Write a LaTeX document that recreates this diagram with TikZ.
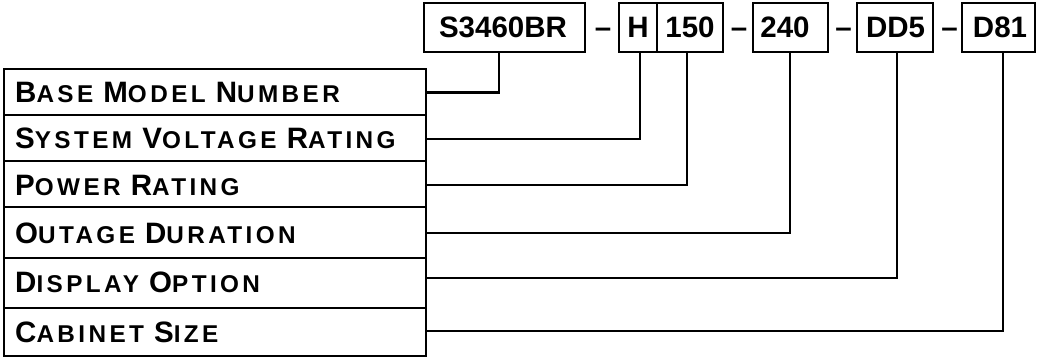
\documentclass[tikz,border=0pt]{standalone}
\usepackage{fontspec}
\setmainfont{Liberation Sans}
\newfontfamily\labfont{Liberation Sans Bold}[LetterSpace=14]
\newfontfamily\codefont{Liberation Sans Bold}
\newcommand\SCword[2]{{\fontsize{29.5}{29.5}\selectfont #1}#2}
\begin{document}
\begin{tikzpicture}[x=1pt,y=-1pt,
  lw/.style={line width=2.8pt},
  codebox/.style={lw,draw=black},
  codetxt/.style={anchor=base,font=\fontsize{29.5}{29.5}\selectfont\codefont},
  labtxt/.style={anchor=base west,inner sep=0pt,font=\fontsize{24.3}{24.3}\selectfont\labfont},
  conn/.style={lw,line cap=rect}]
\useasboundingbox (0,0) rectangle (1040,358);
% top code boxes
\draw[codebox] (424,3) rectangle (585,52);
\draw[codebox] (619,3) rectangle (657,52);
\draw[codebox] (657,3) rectangle (723,52);
\draw[codebox] (753,3) rectangle (828,52);
\draw[codebox] (857,3) rectangle (933,52);
\draw[codebox] (962,3) rectangle (1035,52);
\node[codetxt] (c1) at (503,37.5) {S3460BR};
\node[codetxt] (c2) at (638,37.5) {H};
\node[codetxt] (c3) at (690,37.5) {150};
\node[codetxt] (c4) at (785,37.5) {240};
\node[codetxt] (c5) at (895.5,37.5) {DD5};
\node[codetxt] (c6) at (1000,37.5) {D81};
\node[codetxt] (d1) at (603,37.5) {–};
\node[codetxt] (d2) at (739,37.5) {–};
\node[codetxt] (d3) at (843.5,37.5) {–};
\node[codetxt] (d4) at (949.5,37.5) {–};
% anchor coordinates on the bottom edges of code boxes
\coordinate (b1) at (499,52);
\coordinate (b2) at (640,52);
\coordinate (b3) at (687,52);
\coordinate (b4) at (790,52);
\coordinate (b5) at (897,52);
\coordinate (b6) at (1003,52);
% left label boxes
\draw[codebox] (4,69) rectangle (426,115);
\draw[codebox] (4,115) rectangle (426,161);
\draw[codebox] (4,161) rectangle (426,207);
\draw[codebox] (4,207) rectangle (426,258);
\draw[codebox] (4,258) rectangle (426,308);
\draw[codebox] (4,308) rectangle (426,356);
\node[labtxt] (l1) at (15,103) {\SCword{B}{ASE} \SCword{M}{ODEL} \SCword{N}{UMBER}};
\node[labtxt] (l2) at (15,149) {\SCword{S}{YSTEM} \SCword{V}{OLTAGE} \SCword{R}{ATING}};
\node[labtxt] (l3) at (15,195) {\SCword{P}{OWER} \SCword{R}{ATING}};
\node[labtxt] (l4) at (15,243.5) {\SCword{O}{UTAGE} \SCword{D}{URATION}};
\node[labtxt] (l5) at (15,292) {\SCword{D}{ISPLAY} \SCword{O}{PTION}};
\node[labtxt] (l6) at (15,342) {\SCword{C}{ABINET} \SCword{S}{IZE}};
\coordinate (r1) at (426,92.5);
\coordinate (r2) at (426,139);
\coordinate (r3) at (426,185);
\coordinate (r4) at (426,233);
\coordinate (r5) at (426,278);
\coordinate (r6) at (426,331);
% connectors
\draw[conn] (r1) -| (b1);
\draw[conn] (r2) -| (b2);
\draw[conn] (r3) -| (b3);
\draw[conn] (r4) -| (b4);
\draw[conn] (r5) -| (b5);
\draw[conn] (r6) -| (b6);
\end{tikzpicture}
\end{document}
